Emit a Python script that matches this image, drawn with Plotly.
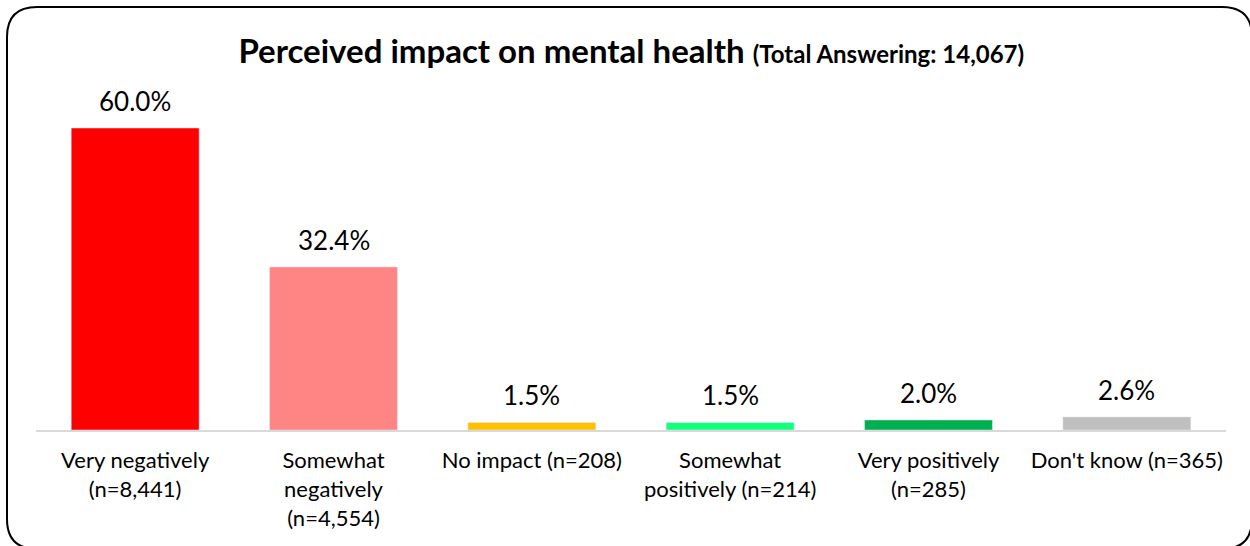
import plotly.graph_objects as go

# Survey responses: perceived impact on mental health
categories = [
    "Very negatively<br>(n=8,441)",
    "Somewhat<br>negatively<br>(n=4,554)",
    "No impact (n=208)",
    "Somewhat<br>positively (n=214)",
    "Very positively<br>(n=285)",
    "Don't know (n=365)",
]
percentages = [60.0, 32.4, 1.5, 1.5, 2.0, 2.6]
bar_colors = ["#FF0000", "#FF8585", "#FFC000", "#12FF7E", "#00B050", "#BFBFBF"]

W, H = 1250, 546
ML, MR, MT, MB = 36, 24, 78, 116
plot_w = W - ML - MR
plot_h = H - MT - MB
FONT = "Lato, sans-serif"


def px_to_paper(x, y):
    return (x - ML) / plot_w, (H - MB - y) / plot_h


fig = go.Figure(
    go.Bar(
        x=categories,
        y=percentages,
        marker_color=bar_colors,
        width=0.645,
        hoverinfo="skip",
    )
)

# Percentage labels above each bar
for cat, v in zip(categories, percentages):
    fig.add_annotation(
        x=cat,
        y=v,
        text=f"{v:.1f}%",
        showarrow=False,
        yanchor="middle",
        yshift=27,
        font=dict(family=FONT, size=26, color="#000000"),
    )

# Rounded frame around the whole chart
x0, y0, x1, y1, r = 7, 7, 1252, 549, 30
pts = {
    "a": px_to_paper(x0 + r, y0),
    "b": px_to_paper(x1 - r, y0),
    "c": px_to_paper(x1, y0 + r),
    "d": px_to_paper(x1, y1 - r),
    "e": px_to_paper(x1 - r, y1),
    "f": px_to_paper(x0 + r, y1),
    "g": px_to_paper(x0, y1 - r),
    "h": px_to_paper(x0, y0 + r),
    "tr": px_to_paper(x1, y0),
    "br": px_to_paper(x1, y1),
    "bl": px_to_paper(x0, y1),
    "tl": px_to_paper(x0, y0),
}
P = lambda k: f"{pts[k][0]:.5f},{pts[k][1]:.5f}"
path = (
    f"M {P('a')} L {P('b')} Q {P('tr')} {P('c')} L {P('d')} Q {P('br')} {P('e')} "
    f"L {P('f')} Q {P('bl')} {P('g')} L {P('h')} Q {P('tl')} {P('a')} Z"
)

fig.update_layout(
    width=W,
    height=H,
    margin=dict(l=ML, r=MR, t=MT, b=MB),
    paper_bgcolor="white",
    plot_bgcolor="white",
    showlegend=False,
    title=dict(
        text="<b>Perceived impact on mental health <span style='font-size:24px'>(Total Answering: 14,067)</span></b>",
        font=dict(family=FONT, size=33, color="#000000"),
        x=0.505,
        xanchor="center",
        y=0.906,
        yanchor="middle",
    ),
    xaxis=dict(
        showline=True,
        linecolor="#D9D9D9",
        linewidth=2,
        showgrid=False,
        ticks="",
        tickfont=dict(family=FONT, size=22, color="#000000"),
        ticklabelstandoff=10,
    ),
    yaxis=dict(
        range=[0, plot_h * 60.0 / 302],
        visible=False,
        showgrid=False,
    ),
    shapes=[
        dict(
            type="path",
            path=path,
            xref="paper",
            yref="paper",
            line=dict(color="#000000", width=2),
            fillcolor="rgba(0,0,0,0)",
            layer="above",
        )
    ],
)

fig.write_html("out.html")
